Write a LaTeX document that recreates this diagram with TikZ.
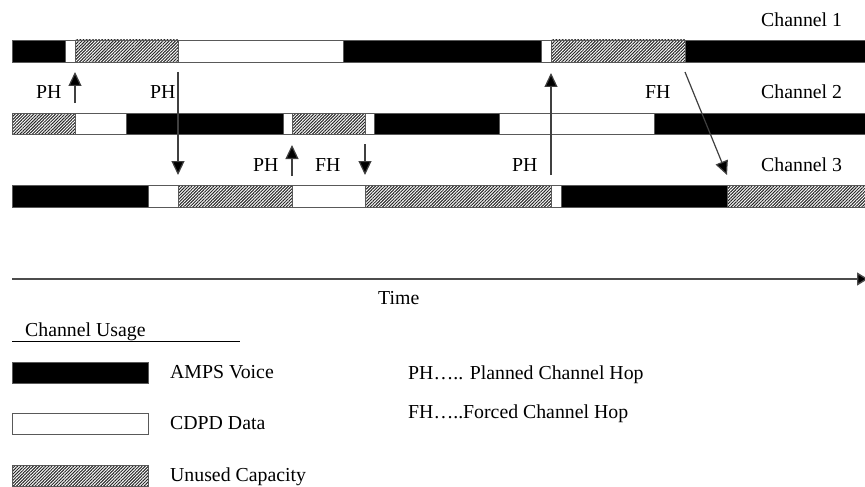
\documentclass[tikz,border=0pt]{standalone}
\usepackage{fontspec}
\setmainfont{Liberation Serif}
\usepackage{tikz}
\usetikzlibrary{arrows.meta, patterns.meta}

\begin{document}
\begin{tikzpicture}[
      x=1pt, y=-1pt,
      font=\fontsize{19.8}{23}\selectfont,
      voice/.style={draw=black!65, line width=0.8pt, fill=black},
      cdpd/.style={draw=black!65, line width=0.8pt, fill=white},
      unused/.style={draw=black!65, line width=0.8pt, fill=gray!35, pattern={Lines[angle=45,distance=2.2pt,line width=1pt]}, pattern color=black!85},
      txt/.style={anchor=base west, inner sep=0pt},
      hop/.style={line width=1.2pt, draw=black!75, -{Triangle[width=13pt,length=14pt,fill=black]}},
      axis/.style={line width=1.4pt, draw=black!70, -{Triangle[width=13pt,length=11pt,fill=black]}}
    ]
    \useasboundingbox (0,0) rectangle (865,487);

    % channel 1
    \draw [voice]  (12,40) rectangle (65,62);
    \draw [cdpd]   (65,40) rectangle (75,62);
    \draw [unused] (75,40) rectangle (178,62);
    \draw [cdpd]   (178,40) rectangle (343,62);
    \draw [voice]  (343,40) rectangle (541,62);
    \draw [cdpd]   (541,40) rectangle (551,62);
    \draw [unused] (551,40) rectangle (685,62);
    \draw [voice]  (685,40) rectangle (870,62);

    % channel 2
    \draw [unused] (12,113) rectangle (75,134);
    \draw [cdpd]   (75,113) rectangle (126,134);
    \draw [voice]  (126,113) rectangle (283,134);
    \draw [cdpd]   (283,113) rectangle (292,134);
    \draw [unused] (292,113) rectangle (365,134);
    \draw [cdpd]   (365,113) rectangle (374,134);
    \draw [voice]  (374,113) rectangle (499,134);
    \draw [cdpd]   (499,113) rectangle (654,134);
    \draw [voice]  (654,113) rectangle (870,134);

    % channel 3
    \draw [voice]  (12,185) rectangle (148,207);
    \draw [cdpd]   (148,185) rectangle (178,207);
    \draw [unused] (178,185) rectangle (292,207);
    \draw [cdpd]   (292,185) rectangle (365,207);
    \draw [unused] (365,185) rectangle (551,207);
    \draw [cdpd]   (551,185) rectangle (561,207);
    \draw [voice]  (561,185) rectangle (727,207);
    \draw [unused] (727,185) rectangle (870,207);

    \node [txt] (ch1) at (761,26.5) {Channel 1};
    \node [txt] (ch2) at (761,98.5) {Channel 2};
    \node [txt] (ch3) at (761,171.5) {Channel 3};

    % hop ends
    \coordinate (hopAs) at (75,103);
    \coordinate (hopAe) at (75,72);
    \coordinate (hopBs) at (178,72);
    \coordinate (hopBe) at (178,175);
    \coordinate (hopCs) at (292,176);
    \coordinate (hopCe) at (292,145);
    \coordinate (hopDs) at (365,144);
    \coordinate (hopDe) at (365,175);
    \coordinate (hopEs) at (551,175);
    \coordinate (hopEe) at (551,73);
    \coordinate (hopFs) at (685,72);
    \coordinate (hopFe) at (727,175);

    \draw [hop] (hopAs) -- (hopAe);
    \draw [hop] (hopBs) -- (hopBe);
    \draw [hop] (hopCs) -- (hopCe);
    \draw [hop] (hopDs) -- (hopDe);
    \draw [hop] (hopEs) -- (hopEe);
    \draw [hop] (hopFs) -- (hopFe);

    \node [txt] (phA) at (36,98.5) {PH};
    \node [txt] (phB) at (150,98.5) {PH};
    \node [txt] (phC) at (253,171.5) {PH};
    \node [txt] (fhD) at (315,171.5) {FH};
    \node [txt] (phE) at (512,171.5) {PH};
    \node [txt] (fhF) at (645,98.5) {FH};

    % time axis
    \coordinate (t0) at (12,279);
    \coordinate (t1) at (868,279);
    \draw [axis] (t0) -- (t1);
    \node [txt] (time) at (378,304.5) {Time};

    % legend
    \node [txt] (usage) at (25,336) {Channel Usage};
    \coordinate (u0) at (12,341);
    \coordinate (u1) at (240,341);
    \draw [line width=1pt] (u0) -- (u1);

    \draw [voice]  (12,362) rectangle (148,383);
    \draw [cdpd]   (12,413) rectangle (148,434);
    \draw [unused] (12,465) rectangle (148,486);
    \node [txt] (amps) at (170,378.5) {AMPS Voice};
    \node [txt] (data) at (170,429.5) {CDPD Data};
    \node [txt] (free) at (170,481.5) {Unused Capacity};

    \node [txt] (phkey) at (408,379) {PH….. Planned Channel Hop};
    \node [txt] (fhkey) at (408,418.5) {FH…..Forced Channel Hop};
  \end{tikzpicture}
\end{document}
